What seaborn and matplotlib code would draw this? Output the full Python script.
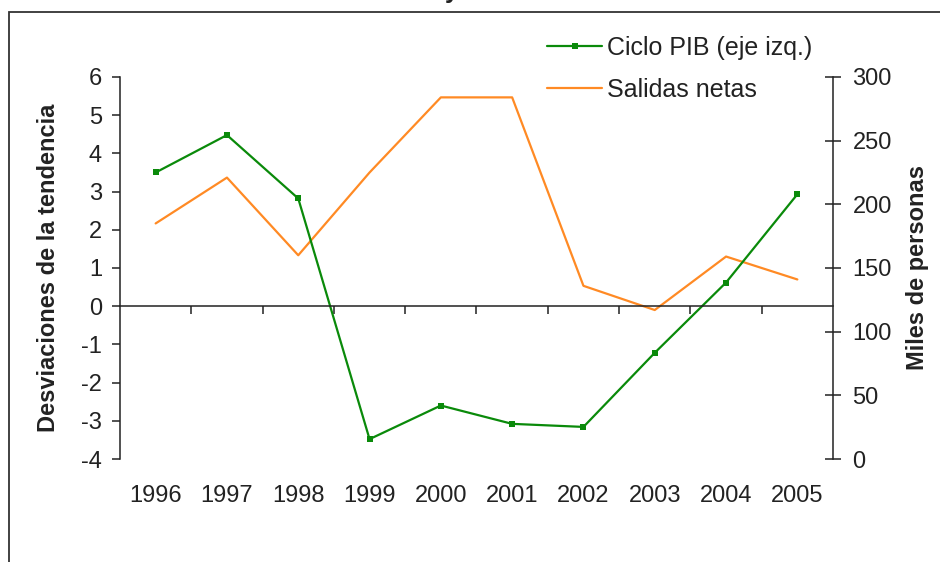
import numpy as np
import pandas as pd
import matplotlib
matplotlib.use('Agg')
import matplotlib.pyplot as plt
from matplotlib.patches import Rectangle
from matplotlib.ticker import FixedLocator
import seaborn as sns

sns.set_theme(style='white')
plt.rcParams['font.family'] = ['Liberation Sans', 'DejaVu Sans']
plt.rcParams['axes.unicode_minus'] = False

# Data
years = ['1996', '1997', '1998', '1999', '2000', '2001', '2002', '2003', '2004', '2005']
ciclo_pib = [3.5, 4.48, 2.82, -3.48, -2.6, -3.08, -3.16, -1.22, 0.62, 2.93]
salidas_netas = [185, 221, 160, 225, 284, 284, 136, 117, 159, 141]

label_pib = 'Ciclo PIB (eje izq.)'
label_sal = 'Salidas netas'
ylabel_left = 'Desviaciones de la tendencia'
ylabel_right = 'Miles de personas'

green = '#0a8a0a'
orange = '#ff8a24'
text_col = '#222222'
fs = 17

df = pd.DataFrame({'pos': np.arange(len(years)), 'year': years,
                   'pib': ciclo_pib, 'salidas': salidas_netas})

fig = plt.figure(figsize=(9.4, 5.62), dpi=100)
ax = fig.add_axes([120/940, 1 - 459/562, (833 - 120)/940, (459 - 77)/562])
ax2 = ax.twinx()

# Salidas netas on the right axis, drawn underneath
sns.lineplot(data=df, x='pos', y='salidas', ax=ax2, color=orange, lw=1.6,
             label=label_sal, legend=False)
ax.set_zorder(ax2.get_zorder() + 1)
ax.patch.set_visible(False)
sns.lineplot(data=df, x='pos', y='pib', ax=ax, color=green, lw=1.6,
             marker='s', markersize=5, markeredgewidth=0, label=label_pib,
             legend=False)

# left axis
ax.set_xlim(-0.5, len(years) - 0.5)
ax.set_ylim(-4, 6)
ax.set_yticks(np.arange(-4, 7, 1))
ax.set_xlabel('')
ax.set_ylabel(ylabel_left, fontsize=fs, fontweight='bold', color=text_col,
              labelpad=15)
ax.spines['bottom'].set_position(('data', 0))
ax.spines['top'].set_visible(False)
ax.spines['right'].set_visible(False)
for s in ['left', 'bottom']:
    ax.spines[s].set_color('#222222')
    ax.spines[s].set_linewidth(1.1)
ax.set_xticks([])
ax.xaxis.set_minor_locator(FixedLocator(np.arange(0.5, len(years) - 1, 1)))
ax.tick_params(axis='x', which='minor', direction='out', length=6, width=1.1,
               color='#222222', bottom=True)
ax.tick_params(axis='y', direction='out', length=6, width=1.1, color='#222222',
               labelsize=fs, labelcolor=text_col, left=True, pad=7)

# year labels along the bottom of the plot area
sec = ax.secondary_xaxis('bottom')
sec.set_xticks(df['pos'], labels=years)
sec.tick_params(length=0, pad=19, labelsize=fs, labelcolor=text_col)
sec.spines['bottom'].set_visible(False)

# right axis
ax2.set_ylim(0, 300)
ax2.set_yticks(np.arange(0, 301, 50))
ax2.set_xlabel('')
ax2.set_ylabel(ylabel_right, fontsize=fs, fontweight='bold', color=text_col,
               labelpad=10)
for s in ['top', 'bottom', 'left']:
    ax2.spines[s].set_visible(False)
ax2.spines['right'].set_color('#222222')
ax2.spines['right'].set_linewidth(1.1)
ax2.tick_params(axis='y', direction='inout', length=12, width=1.1,
                color='#222222', labelsize=fs, labelcolor=text_col,
                right=True, pad=8)
ax2.tick_params(axis='x', bottom=False, labelbottom=False)

# legend
h1, l1 = ax.get_legend_handles_labels()
h2, l2 = ax2.get_legend_handles_labels()
fig.legend(h1 + h2, l1 + l2, loc='upper left',
           bbox_to_anchor=(547/940, 1 - 36/562), frameon=False,
           fontsize=18, handlelength=2.2, handletextpad=0.2,
           labelspacing=0.72, borderpad=0, borderaxespad=0,
           labelcolor=text_col)

# outer frame of the original figure (cut at right and bottom)
fig.patches.append(Rectangle((9/940, -0.1), 2, 1 - 12/562 + 0.1,
                             transform=fig.transFigure, fill=False,
                             edgecolor='#333333', lw=1.3))
# descender of the cut-off title
fig.text(452/940, 1 + 2/562, 'y', ha='center', va='baseline', fontsize=18,
         fontweight='bold', color=text_col)

fig.savefig('out.png', dpi=100)
